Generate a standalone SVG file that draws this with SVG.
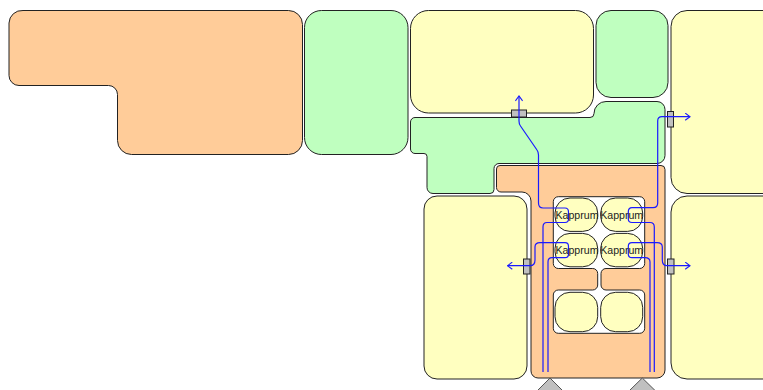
<svg xmlns="http://www.w3.org/2000/svg" width="763" height="390" viewBox="0 0 763 390">
<defs>
<style>
.room{stroke:#222;stroke-width:1}
.o{fill:#ffcc99}.g{fill:#bfffbf}.y{fill:#ffffc0}.w{fill:#fff}
.door{fill:#c0c0c0;stroke:#222;stroke-width:1}
.term{fill:#c0c0c0;stroke:#555;stroke-width:1}
.route{fill:none;stroke:#1a1aff;stroke-width:1.2}
.label{font-family:"Liberation Sans",Arial,sans-serif;font-size:10.6px;fill:#222;text-anchor:middle}
</style>
<marker id="arrow" viewBox="0 0 10 10" refX="9" refY="5" markerWidth="8" markerHeight="8" markerUnits="userSpaceOnUse" orient="auto">
<path d="M3,0.5 L9,5 L3,9.5" fill="none" stroke="#1a1aff" stroke-width="1.4"/>
</marker>
</defs>
<g id="room-orange-top"><path class="room o" d="M23,10.5 H288.5 a14,14 0 0 1 14,14 V140.5 a14,14 0 0 1 -14,14 H131.5 a14,14 0 0 1 -14,-14 V94.5 a9,9 0 0 0 -9,-9 H19 a10,10 0 0 1 -10,-10 V23 a13,13 0 0 1 14,-12.5 Z"/></g>
<g id="room-green-2"><rect class="room g" x="304.5" y="10.5" width="103.5" height="144" rx="17"/></g>
<g id="room-yellow-top"><rect class="room y" x="410.5" y="10.5" width="183" height="102.5" rx="18"/></g>
<g id="room-green-small"><rect class="room g" x="596" y="10.5" width="72" height="87" rx="15"/></g>
<g id="room-yellow-right-top"><rect class="room y" x="671" y="10.5" width="110" height="183" rx="16"/></g>
<g id="room-green-corridor"><path class="room g" d="M415,117.5 H590 a4,4 0 0 0 4,-4 a12,12 0 0 1 12,-12 H657 a8,8 0 0 1 8,8 V155.5 a8,8 0 0 1 -8,8 H499 a5,5 0 0 0 -5,5 V189.500 a4,4 0 0 1 -4,4 H433 a6,6 0 0 1 -6,-6 V156.500 a3,3 0 0 0 -3,-3 H415 a4.500,4.500 0 0 1 -4.500,-4.500 V122 a4.500,4.500 0 0 1 4.500,-4.500 Z"/></g>
<g id="room-orange-core"><path class="room o" d="M500,165.500 H661 a4,4 0 0 1 4,4 V370 a8,8 0 0 1 -8,8 H538 a7,7 0 0 1 -7,-7 V201 a9,9 0 0 0 -9,-9 H501 a4.500,4.500 0 0 1 -4.500,-4.500 V169 a3.500,3.500 0 0 1 3.500,-3.500 Z"/></g>
<g id="room-yellow-lower-left"><rect class="room y" x="424" y="196" width="103" height="183" rx="13"/></g>
<g id="room-yellow-lower-right"><rect class="room y" x="671" y="196" width="110" height="183" rx="16"/></g>
<g id="room-white-core"><path class="room w" d="M558.300,196.700 H639.700 a5,5 0 0 1 5,5 V263.500 a5,5 0 0 1 -5,5 H606 a5,5 0 0 0 -5,5 V285 a5,5 0 0 0 5,5 H639.700 a5,5 0 0 1 5,5 V328.300 a5,5 0 0 1 -5,5 H558.300 a5,5 0 0 1 -5,-5 V295 a5,5 0 0 1 5,-5 H592.700 a5,5 0 0 0 5,-5 V273.500 a5,5 0 0 0 -5,-5 H558.300 a5,5 0 0 1 -5,-5 V201.700 a5,5 0 0 1 5,-5 Z"/></g>
<g id="room-k1"><rect class="room y" x="555" y="198" width="42.700" height="33.400" rx="15"/></g>
<g id="room-k2"><rect class="room y" x="600.700" y="198" width="42" height="33.400" rx="15"/></g>
<g id="room-k3"><rect class="room y" x="555" y="233.400" width="42.700" height="33.400" rx="15"/></g>
<g id="room-k4"><rect class="room y" x="600.700" y="233.400" width="42" height="33.400" rx="15"/></g>
<g id="room-l1"><rect class="room y" x="555" y="292.300" width="42.700" height="39.400" rx="15"/></g>
<g id="room-l2"><rect class="room y" x="600.700" y="292.300" width="42" height="39.400" rx="15"/></g>
<g id="door-top"><rect class="door" x="511.500" y="110" width="15" height="7"/></g>
<g id="door-right-top"><rect class="door" x="667.500" y="111.500" width="6" height="15.500"/></g>
<g id="door-left"><rect class="door" x="523.500" y="259" width="6.500" height="15"/></g>
<g id="door-right"><rect class="door" x="667.500" y="259" width="6.500" height="15"/></g>
<g id="terminal-left"><path class="term" d="M550,378 L537,391 H563 Z"/></g>
<g id="terminal-right"><path class="term" d="M642.300,378 L629,391 H655.600 Z"/></g>
<g id="connectors">
<path class="route" marker-end="url(#arrow)" d="M543,372 V227 Q543,222.500 547,222.500 H565 Q568.500,222.500 568.500,219 V212 Q568.500,208 565,208 H543 Q538.500,208 538.500,203 V155 Q538.500,152 537,150 L520.500,126 Q519,124 519,121 V96"/>
<path class="route" marker-end="url(#arrow)" d="M548,372 V262 Q548,257.700 552,257.700 H565 Q568.500,257.700 568.500,254 V246.500 Q568.500,242.700 565,242.700 H540 Q535,242.700 535,247 V260 Q535,265.700 530,265.700 H507.500"/>
<path class="route" marker-end="url(#arrow)" d="M654.300,372 V227 Q654.300,222.500 650,222.500 H632 Q628.300,222.500 628.300,219 V212 Q628.300,207.700 632,207.700 H653 Q657.700,207.700 657.700,203 V121 Q657.700,116.700 662,116.700 H690"/>
<path class="route" marker-end="url(#arrow)" d="M650,372 V262 Q650,257.700 645,257.700 H632 Q628.300,257.700 628.300,254 V246.500 Q628.300,242.700 632,242.700 H657 Q662.300,242.700 662.300,247 V260 Q662.300,265.700 667,265.700 H690"/>
</g>
<g id="labels">
<text class="label" x="577" y="219.300">Kapprum</text>
<text class="label" x="621.700" y="219.300">Kapprum</text>
<text class="label" x="577" y="254.300">Kapprum</text>
<text class="label" x="621.700" y="254.300">Kapprum</text>
</g>
</svg>
